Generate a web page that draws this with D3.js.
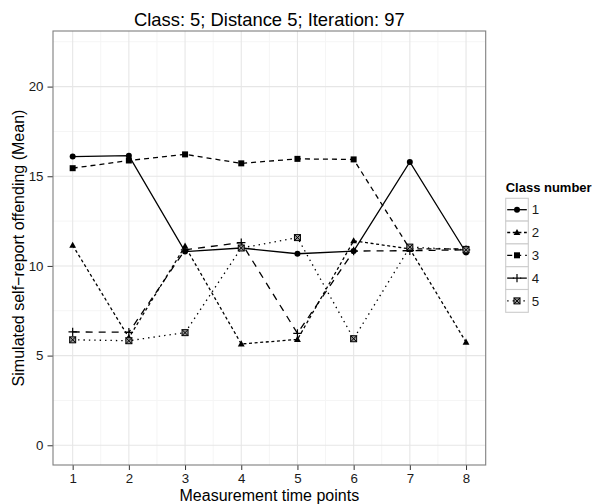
<!DOCTYPE html>
<html><head><meta charset="utf-8">
<script src="https://cdn.jsdelivr.net/npm/d3@7"></script>
<style>body{margin:0;background:#fff}svg{display:block}text{font-family:"Liberation Sans",Arial,Helvetica,sans-serif}</style>
</head><body>
<script>
const timePoints = [1,2,3,4,5,6,7,8];
const classNames = ["1","2","3","4","5"];
const class1 = [16.1, 16.15, 10.8, 11.0, 10.68, 10.83, 15.8, 10.75];
const class2 = [11.15, 6.0, 11.1, 5.65, 5.9, 11.4, 10.95, 5.75];
const class3 = [15.45, 15.88, 16.22, 15.72, 15.97, 15.94, 10.95, 10.95];
const class4 = [6.32, 6.3, 10.9, 11.3, 6.24, 10.83, 10.85, 10.9];
const class5 = [5.88, 5.83, 6.28, 11.0, 11.58, 5.94, 11.05, 10.9];
const yTicks = [0,5,10,15,20];
const yMinor = [2.5,7.5,12.5,17.5,22.5];
const xMinor = [1.5,2.5,3.5,4.5,5.5,6.5,7.5];
const titleText = "Class: 5; Distance 5; Iteration: 97";
const xTitle = "Measurement time points";
const yTitle = "Simulated self\u2212report offending (Mean)";
const legendTitle = "Class number";

const series = [class1,class2,class3,class4,class5];
const dashes = [null, "3,2.6", "5,4", "7,6", "1.4,4"];
const shapes = ["circle","triangle","square","plus","squarex"];

const W=592,H=504;
const L=53,R=485.7,T=31,B=465;
const svg=d3.select("body").append("svg").attr("width",W).attr("height",H);
const x=d3.scaleLinear().domain([0.65,8.35]).range([L,R]);
const y=d3.scaleLinear().domain([-1.1,23.1]).range([B,T]);

// grid
const g=svg.append("g");
g.selectAll(".mnx").data(xMinor).enter().append("line").attr("x1",d=>x(d)).attr("x2",d=>x(d)).attr("y1",T).attr("y2",B).attr("stroke","#f5f5f5").attr("stroke-width",1);
g.selectAll(".mny").data(yMinor).enter().append("line").attr("y1",d=>y(d)).attr("y2",d=>y(d)).attr("x1",L).attr("x2",R).attr("stroke","#f5f5f5").attr("stroke-width",1);
g.selectAll(".mjx").data(timePoints).enter().append("line").attr("x1",d=>x(d)).attr("x2",d=>x(d)).attr("y1",T).attr("y2",B).attr("stroke","#e6e6e6").attr("stroke-width",1.1);
g.selectAll(".mjy").data(yTicks).enter().append("line").attr("y1",d=>y(d)).attr("y2",d=>y(d)).attr("x1",L).attr("x2",R).attr("stroke","#e6e6e6").attr("stroke-width",1.1);

// axes
const xa=svg.append("g").attr("transform",`translate(0,${B})`).call(d3.axisBottom(x).tickValues(timePoints).tickSize(5).tickPadding(4).tickFormat(d3.format("d")));
const ya=svg.append("g").attr("transform",`translate(${L},0)`).call(d3.axisLeft(y).tickValues(yTicks).tickSize(5.5).tickPadding(4).tickFormat(d3.format("d")));
[xa,ya].forEach(a=>{a.select(".domain").remove();a.selectAll("line").attr("stroke","#333");a.selectAll("text").attr("fill","#1a1a1a").style("font-size","13.3px").style("font-family","'Liberation Sans',Arial,sans-serif");});
xa.selectAll("text").attr("dy","0.71em");

svg.append("rect").attr("x",L).attr("y",T).attr("width",R-L).attr("height",B-T).attr("fill","none").attr("stroke","#7f7f7f").attr("stroke-width",1.1);

// symbols
function drawShape(sel,shape,cx,cy){
  if(shape==="circle") sel.append("circle").attr("cx",cx).attr("cy",cy).attr("r",3).attr("fill","#000");
  else if(shape==="triangle"){const s=3.6;sel.append("path").attr("d",`M${cx},${cy-s}L${cx+s*0.95},${cy+s*0.7}L${cx-s*0.95},${cy+s*0.7}Z`).attr("fill","#000");}
  else if(shape==="square") sel.append("rect").attr("x",cx-3).attr("y",cy-3).attr("width",6).attr("height",6).attr("fill","#000");
  else if(shape==="plus") sel.append("path").attr("d",`M${cx-4.2},${cy}H${cx+4.2}M${cx},${cy-4.2}V${cy+4.2}`).attr("stroke","#000").attr("stroke-width",1.2).attr("fill","none");
  else if(shape==="squarex"){sel.append("rect").attr("x",cx-3).attr("y",cy-3).attr("width",6).attr("height",6).attr("fill","#999").attr("stroke","#000").attr("stroke-width",1);
    sel.append("path").attr("d",`M${cx-3},${cy-3}L${cx+3},${cy+3}M${cx+3},${cy-3}L${cx-3},${cy+3}`).attr("stroke","#000").attr("stroke-width",1).attr("fill","none");}
}

const line=d3.line().x((d,i)=>x(timePoints[i])).y(d=>y(d));
series.forEach((s,k)=>{
  svg.append("path").attr("d",line(s)).attr("fill","none").attr("stroke","#000").attr("stroke-width",1.3).attr("stroke-dasharray",dashes[k]);
});
series.forEach((s,k)=>{
  const pg=svg.append("g");
  s.forEach((v,i)=>drawShape(pg,shapes[k],x(timePoints[i]),y(v)));
});

// titles
svg.append("text").attr("x",(L+R)/2).attr("y",26).attr("text-anchor","middle").style("font-size","18.4px").attr("fill","#000").text(titleText);
svg.append("text").attr("x",(L+R)/2).attr("y",500.5).attr("text-anchor","middle").style("font-size","16px").attr("fill","#000").text(xTitle);
svg.append("text").attr("transform",`translate(23.5,${(T+B)/2}) rotate(-90)`).attr("text-anchor","middle").style("font-size","16px").attr("fill","#000").text(yTitle);

// legend
const lx=505.7, ly=198.3, kw=22.6, kh=22.8;
svg.append("text").attr("x",lx).attr("y",191.5).style("font-size","13px").style("font-weight","bold").attr("fill","#000").text(legendTitle);
classNames.forEach((c,k)=>{
  const ky=ly+k*kh;
  const kg=svg.append("g");
  kg.append("rect").attr("x",lx).attr("y",ky).attr("width",kw).attr("height",kh).attr("fill","#fff").attr("stroke","#cccccc").attr("stroke-width",1.1);
  kg.append("line").attr("x1",lx+1.5).attr("x2",lx+kw-1.5).attr("y1",ky+kh/2).attr("y2",ky+kh/2).attr("stroke","#000").attr("stroke-width",1.3).attr("stroke-dasharray",dashes[k]);
  drawShape(kg,shapes[k],lx+kw/2,ky+kh/2);
  svg.append("text").attr("x",lx+kw+3.5).attr("y",ky+kh/2).attr("dy","0.36em").style("font-size","13.3px").attr("fill","#1a1a1a").text(c);
});
</script>
</body></html>
